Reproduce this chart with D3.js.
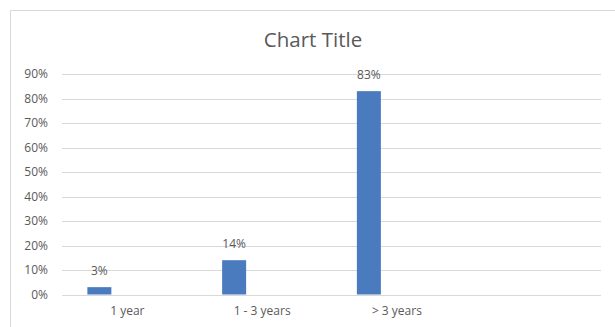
<!DOCTYPE html>
<html>
<head>
<meta charset="utf-8">
<script src="https://cdn.jsdelivr.net/npm/d3@7"></script>
<style>
  html, body { margin: 0; padding: 0; background: #fff; }
  svg { display: block; font-family: "Open Sans", "Noto Sans", sans-serif; }
</style>
</head>
<body>
<svg id="chart"></svg>
<script>
// data
const categories = ["1 year", "1 - 3 years", "> 3 years", ""];
const values = [0.03, 0.14, 0.83, null];
const yTicks = [0, 0.1, 0.2, 0.3, 0.4, 0.5, 0.6, 0.7, 0.8, 0.9];
const chartTitle = "Chart Title";

const width = 615;
const height = 327;
const margin = { top: 74, right: 14, bottom: 32.5, left: 62 };

const svg = d3.select("#chart")
  .attr("width", width)
  .attr("height", height);

// outer chart border
svg.append("rect")
  .attr("x", 10.5)
  .attr("y", 10.5)
  .attr("width", width + 10)
  .attr("height", height + 10)
  .attr("fill", "#fff")
  .attr("stroke", "#d9d9d9")
  .attr("stroke-width", 1);

const x = d3.scaleBand()
  .domain(categories)
  .range([margin.left, width - margin.right])
  .padding(0);

const y = d3.scaleLinear()
  .domain([0, 0.9])
  .range([height - margin.bottom, margin.top]);

const barWidth = 24;
const barShift = -30; // bar sits left of the category centre (empty series to its right)

// gridlines
svg.append("g")
  .selectAll("line")
  .data(yTicks)
  .join("line")
  .attr("x1", margin.left)
  .attr("x2", width - margin.right)
  .attr("y1", (d) => Math.round(y(d)) + 0.5)
  .attr("y2", (d) => Math.round(y(d)) + 0.5)
  .attr("stroke", "#d9d9d9")
  .attr("stroke-width", 1);

// y axis labels
const yAxis = d3.axisLeft(y)
  .tickValues(yTicks)
  .tickFormat(d3.format(".0%"))
  .tickSize(0)
  .tickPadding(0);

svg.append("g")
  .attr("transform", `translate(${margin.left - 14},0)`)
  .call(yAxis)
  .call((g) => g.select(".domain").remove())
  .call((g) => g.selectAll("text")
    .attr("fill", "#595959")
    .attr("font-size", 12)
    .attr("font-family", "'Open Sans', 'Noto Sans', sans-serif"));

// x axis labels
const xAxis = d3.axisBottom(x).tickSize(0).tickPadding(0);
svg.append("g")
  .attr("transform", `translate(-2,${height - margin.bottom + 12})`)
  .call(xAxis)
  .call((g) => g.select(".domain").remove())
  .call((g) => g.selectAll("text")
    .attr("fill", "#595959")
    .attr("font-size", 12)
    .attr("font-family", "'Open Sans', 'Noto Sans', sans-serif"));

const barData = categories
  .map((c, i) => ({ category: c, value: values[i] }))
  .filter((d) => d.value != null);

const barX = (d) => x(d.category) + x.bandwidth() / 2 + barShift - barWidth / 2;

svg.append("g")
  .selectAll("rect")
  .data(barData)
  .join("rect")
  .attr("x", barX)
  .attr("y", (d) => y(d.value))
  .attr("width", barWidth)
  .attr("height", (d) => y(0) - y(d.value))
  .attr("fill", "#4a7bbf");

// data labels
svg.append("g")
  .selectAll("text")
  .data(barData)
  .join("text")
  .attr("x", (d) => barX(d) + barWidth / 2)
  .attr("y", (d) => y(d.value) - 12)
  .attr("text-anchor", "middle")
  .attr("fill", "#595959")
  .attr("font-size", 12)
  .text((d) => d3.format(".0%")(d.value));

// title
svg.append("text")
  .attr("x", 313)
  .attr("y", 47)
  .attr("text-anchor", "middle")
  .attr("fill", "#595959")
  .attr("font-size", 20.5)
  .text(chartTitle);
</script>
</body>
</html>
